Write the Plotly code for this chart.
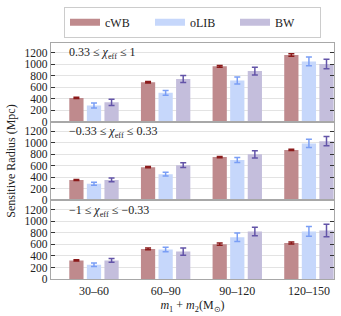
import plotly.graph_objects as go
from plotly.subplots import make_subplots

categories = ["30–60", "60–90", "90–120", "120–150"]
methods = ["cWB", "oLIB", "BW"]
panel_labels = [
    "0.33 ≤ <i>χ</i><sub>eff</sub> ≤ 1",
    "−0.33 ≤ <i>χ</i><sub>eff</sub> ≤ 0.33",
    "−1 ≤ <i>χ</i><sub>eff</sub> ≤ −0.33",
]

# panel 1: 0.33 <= chi <= 1
cwb_high = [412, 685, 960, 1157]
cwb_high_err = [12, 14, 16, 22]
olib_high = [280, 500, 715, 1045]
olib_high_err = [42, 40, 60, 75]
bw_high = [335, 740, 878, 1002]
bw_high_err = [55, 62, 67, 83]

# panel 2: -0.33 <= chi <= 0.33
cwb_mid = [352, 576, 750, 875]
cwb_mid_err = [8, 9, 9, 11]
olib_mid = [288, 454, 700, 987]
olib_mid_err = [28, 33, 42, 72]
bw_mid = [355, 610, 798, 1026]
bw_mid_err = [31, 42, 64, 80]

# panel 3: -1 <= chi <= -0.33
cwb_low = [323, 522, 605, 624]
cwb_low_err = [10, 14, 18, 18]
olib_low = [248, 512, 724, 826]
olib_low_err = [30, 39, 75, 84]
bw_low = [322, 476, 825, 843]
bw_low_err = [33, 64, 75, 109]

yticks = [0, 200, 400, 600, 800, 1000, 1200]

panels = [
    [(cwb_high, cwb_high_err), (olib_high, olib_high_err), (bw_high, bw_high_err)],
    [(cwb_mid, cwb_mid_err), (olib_mid, olib_mid_err), (bw_mid, bw_mid_err)],
    [(cwb_low, cwb_low_err), (olib_low, olib_low_err), (bw_low, bw_low_err)],
]

bar_colors = ["#bf8a8d", "#c6d7fb", "#c4bedc"]
err_colors = ["#8b1a1a", "#7a9ef5", "#6354a8"]

FONT = "Liberation Serif"

fig = make_subplots(rows=3, cols=1, shared_xaxes=True, vertical_spacing=0)

for r, panel in enumerate(panels, start=1):
    for k, (vals, errs) in enumerate(panel):
        fig.add_trace(
            go.Bar(
                x=categories, y=vals, name=methods[k], showlegend=False,
                marker=dict(color=bar_colors[k], line=dict(width=0)),
                error_y=dict(type="data", array=errs, color=err_colors[k],
                             thickness=1.5, width=3),
                offsetgroup=str(k), hoverinfo="skip",
            ),
            row=r, col=1,
        )

# legend entries with wide swatches
for k, m in enumerate(methods):
    fig.add_trace(
        go.Scatter(x=[None], y=[None], mode="lines", name=m,
                   line=dict(color=bar_colors[k], width=7)),
        row=1, col=1,
    )

for r in range(1, 4):
    fig.update_yaxes(
        range=[0, 1365], tickvals=yticks, ticks="inside", ticklen=4,
        tickcolor="#333", mirror="ticks", showline=True, linecolor="#a8a8a8",
        linewidth=1.3, showgrid=True, gridcolor="#e3e3e3", gridwidth=1,
        zeroline=False, tickfont=dict(family=FONT, size=11.5, color="#222"),
        row=r, col=1,
    )
    fig.update_xaxes(
        range=[-0.6, 3.35], showline=True, mirror=True, linecolor="#a8a8a8",
        linewidth=1.3, showgrid=False, ticks="", zeroline=False,
        tickfont=dict(family=FONT, size=12, color="#222"),
        row=r, col=1,
    )
    fig.add_annotation(
        text=panel_labels[r - 1], xref=f"x{'' if r == 1 else r} domain",
        yref=f"y{'' if r == 1 else r} domain", x=0.055, y=0.87,
        xanchor="left", yanchor="middle", showarrow=False,
        font=dict(family=FONT, size=12, color="#222"),
    )

fig.update_yaxes(title=dict(text="Sensitive Radius (Mpc)", standoff=6,
                            font=dict(family=FONT, size=12, color="#222")),
                 row=2, col=1)
fig.update_xaxes(title=dict(text="<i>m</i><sub>1</sub> + <i>m</i><sub>2</sub>(M<sub>⊙</sub>)",
                            standoff=4,
                            font=dict(family=FONT, size=12, color="#222")),
                 row=3, col=1)

fig.update_layout(
    width=341, height=316,
    margin=dict(l=51, r=7, t=31, b=37),
    barmode="group", bargap=0.264, bargroupgap=0.19,
    plot_bgcolor="white", paper_bgcolor="white",
    font=dict(family=FONT, size=11, color="#222"),
    hovermode=False,
    legend=dict(orientation="h", x=0.5, xanchor="center", y=1.022, yanchor="bottom",
                bgcolor="white", bordercolor="#cccccc", borderwidth=1,
                font=dict(family=FONT, size=12, color="#222"),
                entrywidth=40, entrywidthmode="pixels", itemwidth=30,
                tracegroupgap=0),
)

fig.write_html("out.html", config={"displayModeBar": False},
               post_script="document.body.style.margin='0';document.body.style.overflow='hidden';")
